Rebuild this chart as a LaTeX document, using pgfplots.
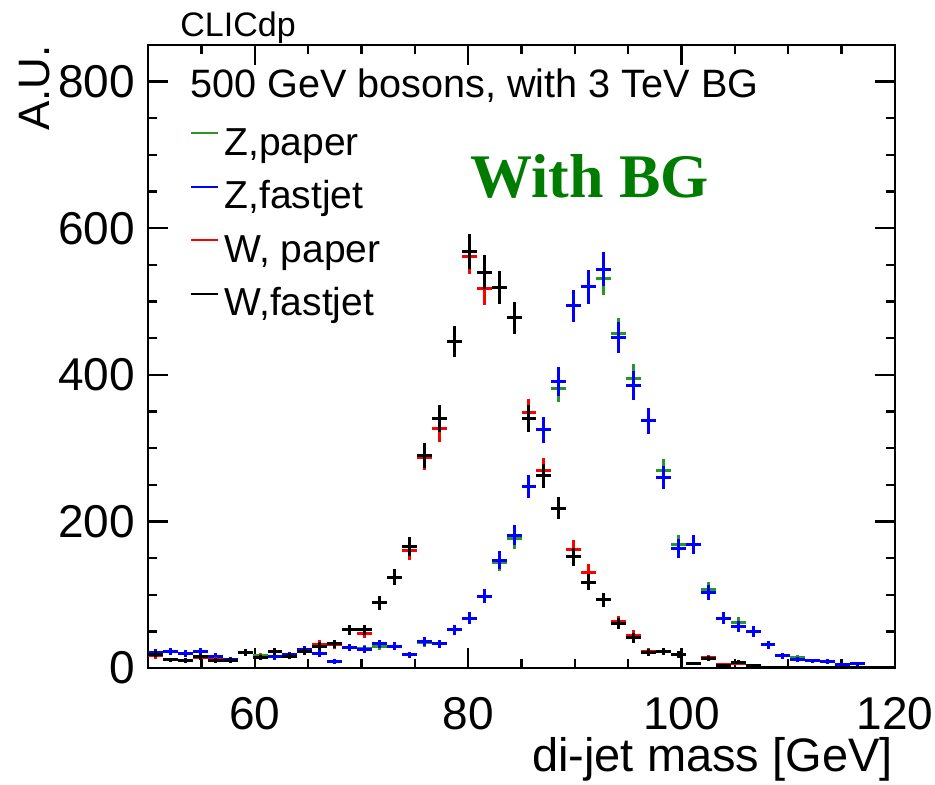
\documentclass[border=0pt]{standalone}
\usepackage{pgfplots}
\pgfplotsset{compat=1.18}
\usepackage{pgfplotstable}
\usepackage{fontspec}
\setmainfont{Liberation Sans}
\newfontfamily\serifbf{Liberation Serif}[BoldFont={Liberation Serif Bold}]

\definecolor{zpaper}{RGB}{40,150,40}
\definecolor{bgtext}{RGB}{0,125,0}

% di-jet mass histograms, 1.4 GeV bins; columns: bin centre, Z (paper), Z (fastjet), W (paper), W (fastjet)
\pgfplotstableread{
x     Zp    Zf    Wp    Wf
50.7  20    21    17    19
52.1  23    23    11    11
53.5  20    20    10    10
54.9  23    23    15    15.5
56.3  16    16    12    10
57.7  12    12    10.5  10.5
59.1  21    21    21    21
60.5  17    15    15    14
61.9  15.5  15.5  22    22
63.3  18    18    16    16
64.7  25    25    23    23
66.1  20    20    32    30
67.5  9     9     32    33
68.9  28    28    52    52
70.3  26    25    47.5  52
71.7  30    33    89    89
73.1  30    30    124   124
74.5  18    18    160   166
75.9  35    36    287   290
77.3  33    33    327   341
78.7  52    52    446   446
80.1  68    68    561   568
81.5  98    98    518   540
82.9  144   147   519   519
84.3  176   181   478   478
85.7  248   248   349   341
87.1  325   325   270   262
88.5  382   391   218   218
89.9  494   494   162   152
91.3  520   520   130   117
92.7  532   544   93    93
94.1  456   451   63    61
95.5  395   385   45    41
96.9  337   337   22    21
98.3  269   260   23    23
99.7  168   163   18    18.5
101.1 168   168   6     6
102.5 107   103   14    13
103.9 68    68    5     4
105.3 62    57    6     8
106.7 50    50    4     3
108.1 31.5  31.5  1     0
109.5 16.5  16.5  0     0
110.9 14.5  12    0     0
112.3 9.6   9.6   1     0
113.7 8.7   8.7   0     0
115.1 5     5     1     0
116.5 5.5   5.5   0     0
117.9 1     1     0     1
119.3 0.5   0.5   0     0
}\histdata

% each histogram is drawn as error crosses only: half a bin across, sqrt(N) up and down
\pgfplotsset{
  histo/.style={
    draw=none, mark=none, forget plot,
    /pgfplots/error bars/x dir=both,
    /pgfplots/error bars/x explicit,
    /pgfplots/error bars/y dir=both,
    /pgfplots/error bars/y explicit,
    /pgfplots/error bars/error mark=none,
    /pgfplots/error bars/error bar style={line width=1.5pt, draw=#1},
  },
  % legend key: a short horizontal stroke in the series colour
  histo key/.style={
    legend image code/.code={\draw[draw=#1, line width=1.1pt] (0pt,6pt) -- (13.5pt,6pt);},
  },
}

\begin{document}
\begin{tikzpicture}
\useasboundingbox (-74pt,-58.5pt) rectangle (393.5pt,334pt);
\begin{axis}[
  at={(0pt,0pt)}, anchor=south west,
  scale only axis, width=373.5pt, height=311.5pt,
  xmin=50, xmax=120, ymin=0, ymax=850,
  xtick={60,80,100,120},
  minor xtick={55,65,70,75,85,90,95,105,110,115},
  ytick={0,200,400,600,800},
  minor ytick={50,100,150,250,300,350,450,500,550,650,700,750},
  tick align=inside,
  major tick length=10pt, minor tick length=4.5pt,
  axis line style={line width=1.4pt},
  every tick/.style={black, line width=1.2pt},
  /pgf/number format/assume math mode=true,
  xticklabel style={font=\fontsize{23}{23}\selectfont, yshift=-11pt},
  yticklabel style={font=\fontsize{23}{23}\selectfont, xshift=-3pt},
  legend cell align=left,
  legend style={at={(rel axis cs:0.0562,0.8716)}, anchor=north west,
    draw=none, fill=none, inner sep=0pt,
    font=\fontsize{19.5}{19.5}\selectfont,
    row sep=6.75pt, column sep=2.5pt,
    nodes={inner sep=0pt, text height=15pt, text depth=5pt}},
]
\addplot[histo=zpaper] table[x=x, y=Zp, x error expr=0.7, y error expr={sqrt(\thisrow{Zp})}] {\histdata};
\addplot[histo=blue] table[x=x, y=Zf, x error expr=0.7, y error expr={sqrt(\thisrow{Zf})}] {\histdata};
\addplot[histo=red] table[x=x, y=Wp, x error expr=0.7, y error expr={sqrt(\thisrow{Wp})}] {\histdata};
\addplot[histo=black] table[x=x, y=Wf, x error expr=0.7, y error expr={sqrt(\thisrow{Wf})}] {\histdata};
\addlegendimage{histo key=zpaper}
\addlegendentry{Z,paper}
\addlegendimage{histo key=blue}
\addlegendentry{Z,fastjet}
\addlegendimage{histo key=red}
\addlegendentry{W, paper}
\addlegendimage{histo key=black}
\addlegendentry{W,fastjet}
\end{axis}
\node[anchor=base west, inner sep=0pt, font=\fontsize{17}{17}\selectfont] at (16pt,315.5pt) {CLICdp};
\node[anchor=base west, inner sep=0pt, font=\fontsize{19.8}{19.8}\selectfont] at (21pt,285pt) {500 GeV bosons, with 3 TeV BG};
\node[anchor=base west, inner sep=0pt, text=bgtext, font=\serifbf\bfseries\fontsize{31}{31}\selectfont] at (161pt,235pt) {With BG};
\node[rotate=90, anchor=south east, inner sep=0pt, font=\fontsize{22}{22}\selectfont] at (-49pt,311.5pt) {A.U.};
\node[anchor=base east, inner sep=0pt, font=\fontsize{23.5}{23.5}\selectfont] at (372.5pt,-52pt) {di-jet mass [GeV]};
\end{tikzpicture}
\end{document}
